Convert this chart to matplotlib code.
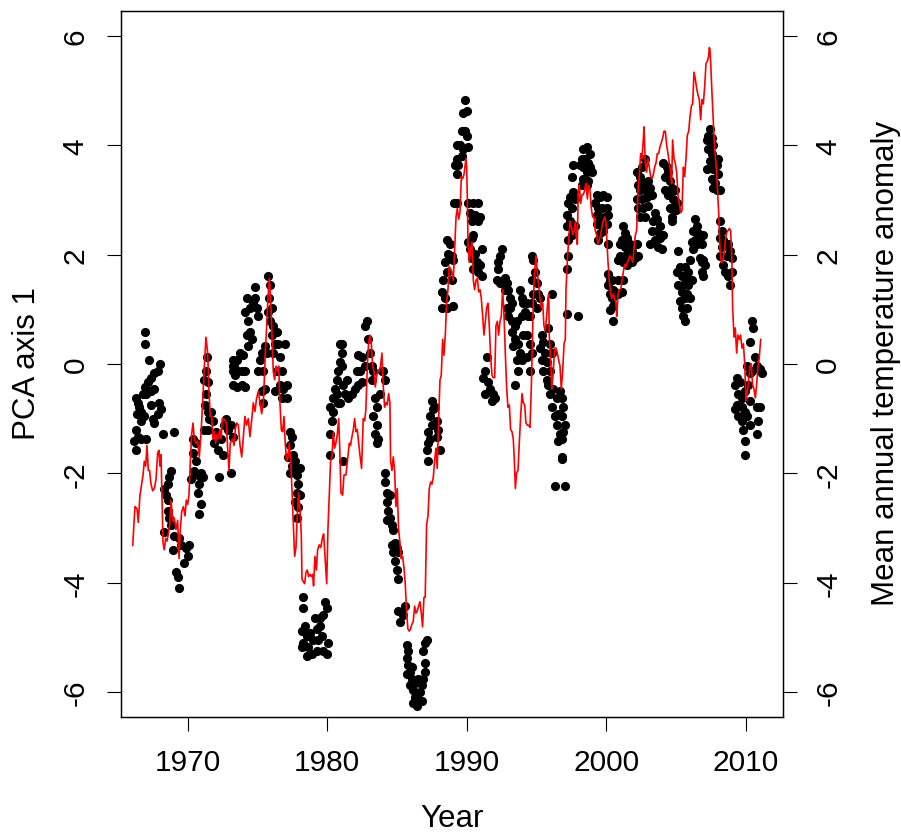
import matplotlib
matplotlib.use("Agg")
import matplotlib.pyplot as plt

plt.rcParams['font.family'] = ['Liberation Sans', 'DejaVu Sans']

# ---------------- data: mean annual temperature anomaly (red line) ----------------
temp_1966_1973 = [
    (1966.07, -3.32), (1966.23, -2.61), (1966.38, -2.65), (1966.47, -2.90), (1966.59, -2.40),
    (1966.71, -2.20), (1966.81, -2.03), (1966.90, -1.78), (1967.00, -1.87), (1967.09, -1.49),
    (1967.19, -1.95), (1967.28, -1.95), (1967.38, -2.20), (1967.50, -2.32), (1967.62, -2.28),
    (1967.74, -2.11), (1967.86, -1.62), (1967.95, -1.58), (1968.02, -1.87), (1968.10, -1.66),
    (1968.17, -2.45), (1968.24, -3.27), (1968.33, -3.40), (1968.43, -3.19), (1968.53, -3.24),
    (1968.62, -3.11), (1968.72, -2.94), (1968.81, -2.49), (1968.93, -2.86), (1969.05, -2.82),
    (1969.17, -3.03), (1969.29, -2.86), (1969.39, -3.56), (1969.48, -3.03), (1969.58, -2.70),
    (1969.70, -2.61), (1969.82, -2.78), (1969.91, -2.49), (1970.01, -2.57), (1970.10, -2.40),
    (1970.20, -1.78), (1970.29, -1.29), (1970.39, -1.08), (1970.48, -1.37), (1970.60, -1.45),
    (1970.72, -1.41), (1970.84, -1.70), (1970.96, -1.29), (1971.08, -0.71), (1971.20, -0.05),
    (1971.32, 0.49), (1971.44, 0.20), (1971.54, -0.54), (1971.63, -0.96), (1971.73, -0.96),
    (1971.82, -1.37), (1971.92, -1.24), (1972.01, -1.45), (1972.11, -1.29), (1972.20, -1.37),
    (1972.30, -1.20), (1972.40, -1.37), (1972.49, -1.00), (1972.59, -1.00), (1972.68, -1.04),
    (1972.78, -1.08), (1972.87, -1.54), (1972.97, -1.95), (1973.06, -1.45),
]
temp_1973_1981 = [
    (1973.23, -1.37), (1973.33, -1.49), (1973.42, -1.20), (1973.52, -1.08), (1973.64, -1.12),
    (1973.76, -1.49), (1973.88, -1.70), (1974.00, -1.33), (1974.11, -0.96), (1974.23, -1.12),
    (1974.35, -1.00), (1974.47, -1.33), (1974.59, -1.04), (1974.71, -0.71), (1974.83, -0.87),
    (1974.95, -0.62), (1975.07, -0.50), (1975.19, -0.71), (1975.31, -0.91), (1975.43, -0.71),
    (1975.50, -0.29), (1975.57, 0.20), (1975.67, 0.70), (1975.76, 1.20), (1975.86, 1.57),
    (1975.95, 1.20), (1976.05, 0.54), (1976.14, -0.13), (1976.24, -0.29), (1976.34, -0.04),
    (1976.43, -0.13), (1976.53, -0.04), (1976.62, -0.71), (1976.72, -1.20), (1976.81, -1.24),
    (1976.91, -0.96), (1977.00, -1.45), (1977.10, -1.78), (1977.20, -1.70), (1977.29, -1.45),
    (1977.39, -1.78), (1977.48, -2.28), (1977.58, -2.94), (1977.67, -3.52), (1977.77, -3.36),
    (1977.86, -2.78), (1977.96, -2.36), (1978.06, -2.69), (1978.15, -3.11), (1978.20, -3.94),
    (1978.29, -3.98), (1978.39, -4.02), (1978.49, -3.81), (1978.58, -3.77), (1978.68, -3.89),
    (1978.77, -3.85), (1978.87, -3.89), (1978.96, -3.85), (1979.03, -4.06), (1979.13, -3.52),
    (1979.23, -3.77), (1979.32, -3.40), (1979.44, -3.31), (1979.54, -3.36), (1979.66, -3.19),
    (1979.75, -3.11), (1979.85, -3.52), (1979.97, -4.02), (1980.06, -3.02), (1980.16, -2.36),
    (1980.25, -1.78), (1980.35, -1.70), (1980.44, -1.24), (1980.54, -1.54), (1980.63, -1.45),
    (1980.73, -1.29), (1980.83, -1.00), (1980.92, -1.66),
]
temp_1981_1989 = [
    (1980.99, -2.36), (1981.11, -2.40), (1981.21, -2.03), (1981.35, -2.03), (1981.45, -1.78),
    (1981.59, -1.45), (1981.68, -1.49), (1981.78, -1.33), (1981.88, -1.20), (1981.97, -1.00),
    (1982.07, -1.24), (1982.16, -1.20), (1982.26, -1.45), (1982.35, -1.66), (1982.47, -1.91),
    (1982.59, -1.00), (1982.69, -1.04), (1982.78, -0.83), (1982.88, -0.04), (1982.97, 0.37),
    (1983.07, 0.53), (1983.17, 0.37), (1983.26, -0.04), (1983.36, -0.13), (1983.45, -0.42),
    (1983.55, -0.21), (1983.64, -0.13), (1983.74, -0.13), (1983.83, -0.04), (1983.93, 0.20),
    (1984.02, -0.38), (1984.12, -0.79), (1984.22, -0.71), (1984.31, -0.75), (1984.41, -0.54),
    (1984.50, -0.71), (1984.55, -1.78), (1984.65, -1.95), (1984.74, -1.70), (1984.84, -1.95),
    (1984.93, -2.61), (1985.03, -2.28), (1985.12, -3.02), (1985.22, -3.27), (1985.31, -3.56),
    (1985.41, -3.52), (1985.51, -3.73), (1985.60, -4.02), (1985.70, -4.56), (1985.79, -4.85),
    (1985.89, -4.89), (1985.98, -4.85), (1986.08, -4.76), (1986.17, -4.72), (1986.27, -4.43),
    (1986.37, -4.56), (1986.46, -4.52), (1986.56, -4.43), (1986.65, -4.35), (1986.75, -4.56),
    (1986.84, -4.81), (1986.94, -4.27), (1987.03, -4.27), (1987.13, -2.94), (1987.23, -2.78),
    (1987.32, -2.28), (1987.42, -2.16), (1987.51, -2.20), (1987.61, -2.07), (1987.70, -1.78),
    (1987.80, -1.54), (1987.89, -1.91), (1987.99, -1.04), (1988.09, -0.29), (1988.18, -0.21),
    (1988.28, 0.45), (1988.37, 0.16), (1988.47, 0.53), (1988.56, 1.11), (1988.66, 1.36),
    (1988.75, 1.78), (1988.85, 1.74),
]
temp_1989_1997 = [
    (1988.93, 1.69), (1989.04, 1.53), (1989.14, 2.11), (1989.24, 2.69), (1989.33, 2.85),
    (1989.43, 2.65), (1989.52, 2.77), (1989.62, 3.43), (1989.71, 3.39), (1989.81, 3.47),
    (1989.91, 3.68), (1989.95, 3.76), (1990.00, 3.60), (1990.05, 3.02), (1990.10, 2.19),
    (1990.19, 1.86), (1990.29, 2.11), (1990.38, 2.23), (1990.48, 1.53), (1990.57, 1.36),
    (1990.67, 1.53), (1990.77, 1.57), (1990.86, 1.32), (1990.96, 1.36), (1991.05, 1.20),
    (1991.15, 0.87), (1991.24, 0.53), (1991.34, 0.78), (1991.43, 1.03), (1991.53, 1.11),
    (1991.62, 0.70), (1991.72, 0.12), (1991.82, -0.21), (1991.91, -0.25), (1992.01, -0.25),
    (1992.10, 0.70), (1992.20, 0.78), (1992.29, 0.53), (1992.39, 0.78), (1992.48, 0.87),
    (1992.58, 1.36), (1992.68, 0.87), (1992.77, 0.20), (1992.87, -0.46), (1992.96, -0.79),
    (1993.06, -0.75), (1993.15, -1.20), (1993.25, -1.24), (1993.34, -1.37), (1993.42, -1.78),
    (1993.49, -2.28), (1993.58, -1.99), (1993.68, -1.95), (1993.77, -1.45), (1993.87, -0.96),
    (1993.97, -0.54), (1994.06, -0.71), (1994.16, -0.75), (1994.25, -1.08), (1994.35, -1.12),
    (1994.44, -1.12), (1994.54, -1.16), (1994.63, -0.46), (1994.71, 0.37), (1994.78, 1.20),
    (1994.87, 1.69), (1994.97, 1.98), (1995.06, 1.69), (1995.16, 1.45), (1995.26, 1.20),
    (1995.35, 1.03), (1995.45, 1.11), (1995.54, 0.70), (1995.64, 0.62), (1995.73, 0.87),
    (1995.83, 1.20), (1995.88, 1.28), (1995.92, 0.53), (1996.02, 0.04), (1996.11, -0.46),
    (1996.21, -0.13), (1996.30, 0.29), (1996.40, 0.29), (1996.50, 0.20), (1996.59, 0.08),
    (1996.69, -0.04),
]
temp_1997_2005 = [
    (1996.78, -0.46), (1996.88, -0.13), (1996.98, 0.37), (1997.07, 0.45), (1997.12, 1.36),
    (1997.21, 1.86), (1997.31, 2.27), (1997.41, 2.61), (1997.50, 2.52), (1997.60, 2.36),
    (1997.69, 2.44), (1997.79, 2.61), (1997.84, 2.36), (1997.93, 2.19), (1998.00, 3.18),
    (1998.07, 3.27), (1998.17, 2.94), (1998.27, 3.10), (1998.36, 3.10), (1998.46, 3.18),
    (1998.55, 3.31), (1998.65, 3.02), (1998.74, 3.27), (1998.84, 3.18), (1998.93, 2.85),
    (1999.03, 2.69), (1999.13, 2.69), (1999.22, 2.44), (1999.32, 2.36), (1999.41, 2.19),
    (1999.51, 2.27), (1999.60, 2.36), (1999.70, 2.52), (1999.79, 2.61), (1999.89, 2.69),
    (1999.98, 2.61), (2000.06, 2.19), (2000.13, 1.86), (2000.22, 1.53), (2000.32, 1.28),
    (2000.41, 1.20), (2000.51, 1.28), (2000.61, 1.20), (2000.70, 1.11), (2000.75, 0.87),
    (2000.85, 1.28), (2000.94, 1.36), (2001.04, 1.36), (2001.13, 1.53), (2001.23, 1.69),
    (2001.32, 1.82), (2001.42, 1.78), (2001.51, 1.86), (2001.61, 1.90), (2001.70, 1.98),
    (2001.80, 1.94), (2001.90, 1.86), (2001.99, 2.11), (2002.09, 2.36), (2002.18, 2.44),
    (2002.28, 3.18), (2002.37, 3.43), (2002.47, 3.85), (2002.56, 3.76), (2002.66, 4.10),
    (2002.71, 4.34), (2002.80, 3.68), (2002.90, 3.51), (2002.99, 3.76), (2003.09, 3.60),
    (2003.19, 3.43), (2003.28, 3.39), (2003.38, 3.47), (2003.47, 3.60), (2003.57, 3.68),
    (2003.66, 3.85), (2003.76, 3.85), (2003.85, 3.97), (2003.95, 4.05), (2004.05, 4.14),
    (2004.14, 4.26), (2004.24, 4.26), (2004.33, 4.01), (2004.43, 3.85), (2004.52, 3.68),
    (2004.62, 3.51), (2004.69, 3.30),
]
temp_2005_2011 = [
    (2004.76, 4.10), (2004.86, 3.76), (2004.95, 3.68), (2005.05, 3.51), (2005.14, 3.10),
    (2005.24, 2.94), (2005.34, 2.77), (2005.43, 2.81), (2005.53, 3.60), (2005.62, 3.43),
    (2005.72, 3.76), (2005.81, 4.18), (2005.91, 4.26), (2006.00, 4.51), (2006.10, 4.72),
    (2006.20, 4.76), (2006.29, 5.34), (2006.39, 5.21), (2006.48, 5.05), (2006.58, 4.92),
    (2006.67, 4.84), (2006.77, 4.47), (2006.86, 4.84), (2006.96, 4.76), (2007.06, 5.09),
    (2007.15, 5.50), (2007.25, 5.54), (2007.34, 5.63), (2007.39, 5.79), (2007.44, 5.75),
    (2007.49, 5.50), (2007.58, 4.96), (2007.68, 4.43), (2007.77, 3.93), (2007.87, 3.68),
    (2007.96, 3.27), (2008.06, 2.77), (2008.15, 2.11), (2008.25, 1.86), (2008.34, 1.86),
    (2008.44, 2.02), (2008.54, 2.27), (2008.63, 2.40), (2008.73, 2.44), (2008.82, 2.48),
    (2008.92, 2.44), (2009.01, 1.86), (2009.06, 1.03), (2009.16, 0.49), (2009.25, 0.66),
    (2009.35, 0.20), (2009.44, 0.53), (2009.54, 0.45), (2009.63, 0.53), (2009.73, 0.29),
    (2009.83, 0.37), (2009.92, 0.04), (2010.02, -0.67), (2010.11, -0.54), (2010.21, -0.29),
    (2010.30, -0.04), (2010.40, 0.00), (2010.49, -0.38), (2010.59, -0.46), (2010.69, -0.62),
    (2010.78, -0.38), (2010.88, -0.04), (2010.97, 0.12), (2011.07, 0.45),
]

# ---------------- data: PCA axis 1 scores (black points) ----------------
pca_1966_1970 = [
    (1966.95, 0.58), (1966.95, 0.37), (1967.26, 0.08), (1968.05, 0.00), (1967.86, -0.13),
    (1967.62, -0.17), (1967.38, -0.25), (1967.14, -0.33), (1966.95, -0.42), (1967.62, -0.46),
    (1967.38, -0.50), (1967.02, -0.54), (1966.78, -0.54), (1966.30, -0.62), (1966.42, -0.71),
    (1966.54, -0.79), (1966.66, -0.87), (1966.38, -0.91), (1967.38, -0.75), (1967.98, -0.71),
    (1968.10, -0.83), (1966.90, -0.96), (1967.50, -1.00), (1967.86, -0.91), (1966.66, -1.04),
    (1967.62, -1.08), (1966.30, -1.20), (1966.42, -1.33), (1966.19, -1.41), (1966.66, -1.37),
    (1967.02, -1.37), (1966.30, -1.58), (1968.22, -1.29), (1969.05, -1.24),
    (1968.81, -1.95), (1968.69, -2.07), (1968.57, -2.20), (1968.33, -2.28), (1968.45, -2.40),
    (1968.57, -2.49), (1968.57, -2.69), (1968.69, -2.82), (1968.81, -2.94), (1968.33, -3.07),
    (1969.05, -3.15), (1968.93, -3.40), (1969.41, -3.19), (1969.53, -3.32), (1969.89, -3.36),
    (1970.13, -3.32), (1970.01, -3.52), (1969.77, -3.65), (1969.17, -3.81), (1969.29, -3.89),
    (1969.41, -4.10),
]
pca_1970_1973 = [
    (1970.36, -1.37), (1970.60, -1.45), (1970.36, -1.62), (1970.60, -1.78), (1970.48, -1.95),
    (1970.72, -2.03), (1970.96, -1.99), (1971.08, -2.07), (1970.84, -2.20), (1970.72, -2.36),
    (1970.96, -2.57), (1970.84, -2.74), (1970.25, -2.11),
    (1971.39, 0.12), (1971.32, -0.13), (1971.20, -0.29), (1971.49, -0.33), (1971.32, -0.54),
    (1971.25, -0.75), (1971.44, -0.87), (1971.56, -1.00), (1971.49, -1.20), (1971.20, -1.20),
    (1971.68, -0.87), (1971.80, -1.04), (1972.04, -1.24), (1971.92, -1.45), (1972.16, -1.58),
    (1972.40, -1.37), (1972.51, -1.66), (1972.28, -2.07), (1972.63, -1.12), (1972.75, -1.00),
    (1972.87, -1.20), (1973.11, -1.12), (1973.23, -1.33), (1973.11, -1.99), (1973.23, -0.13),
    (1973.23, 0.08), (1973.35, -0.04),
]
pca_1973_1977 = [
    (1973.28, -0.04), (1973.52, 0.08), (1973.76, 0.20), (1974.00, 0.16), (1973.64, -0.13),
    (1973.40, -0.21), (1973.88, -0.13), (1974.11, -0.13), (1973.28, -0.38), (1973.52, -0.42),
    (1973.88, -0.38), (1974.11, -0.42),
    (1974.23, 1.20), (1974.11, 0.95), (1974.35, 0.78), (1974.47, 0.58), (1974.23, 0.53),
    (1974.59, 0.45), (1974.35, 0.33), (1974.47, 1.03), (1974.71, 1.11), (1974.83, 1.20),
    (1974.95, 1.03), (1975.07, 0.87), (1974.83, 1.40),
    (1975.19, 0.08), (1975.07, -0.13), (1975.31, 0.20), (1975.43, -0.13), (1975.55, 0.33),
    (1975.67, 0.20), (1975.55, -0.46), (1975.31, -0.50), (1975.43, -0.71),
    (1975.79, 1.61), (1975.91, 1.45), (1975.86, 1.20), (1976.03, 1.03), (1975.79, 0.95),
    (1975.91, 0.78), (1976.14, 0.70), (1976.03, 0.53), (1976.38, 0.58), (1976.26, 0.37),
    (1976.50, 0.37), (1976.14, 0.20), (1976.62, 0.12), (1976.74, -0.13), (1976.38, -0.13),
    (1976.98, 0.37), (1976.62, -0.38), (1976.86, -0.46), (1977.10, -0.38), (1976.74, -0.62),
    (1977.10, -0.62), (1976.26, -0.50),
]
pca_1977_1980 = [
    (1977.34, -1.24), (1977.46, -1.33), (1977.34, -1.49), (1977.58, -1.66), (1977.22, -1.70),
    (1977.46, -1.87), (1977.70, -1.78), (1977.58, -1.95), (1978.06, -1.91), (1977.82, -2.03),
    (1977.94, -2.20), (1977.82, -2.36), (1978.06, -2.40), (1977.70, -2.53), (1977.94, -2.61),
    (1977.82, -2.82), (1977.34, -1.99),
    (1978.29, -4.27), (1978.29, -4.47), (1978.41, -4.80), (1978.17, -4.89), (1978.53, -4.97),
    (1978.29, -5.10), (1978.77, -4.93), (1979.01, -5.05), (1979.25, -4.85), (1979.49, -4.80),
    (1979.73, -4.60), (1979.85, -4.35), (1979.97, -4.47), (1980.09, -5.10), (1979.97, -5.30),
    (1979.73, -5.26), (1979.25, -5.26), (1978.89, -5.30), (1978.53, -5.34), (1978.17, -5.18),
    (1978.65, -5.18), (1979.37, -5.05), (1979.61, -4.97), (1979.13, -4.64), (1979.49, -4.64),
]
pca_1980_1984 = [
    (1980.21, -1.29), (1980.32, -1.04), (1980.44, -0.87), (1980.21, -0.79), (1980.44, -0.62),
    (1980.56, -0.46), (1980.68, -0.29), (1980.80, -0.13), (1980.92, 0.04), (1981.04, 0.20),
    (1980.92, 0.37), (1980.68, -0.54), (1980.80, -0.71), (1981.04, -0.04), (1980.21, -1.66),
    (1981.04, 0.37), (1981.16, -0.38), (1981.40, -0.29), (1981.28, -0.54), (1981.52, -0.62),
    (1981.76, -0.54), (1981.99, -0.46), (1982.23, -0.38), (1982.47, -0.33), (1982.11, -0.13),
    (1982.35, -0.13), (1982.47, 0.12), (1982.23, 0.16), (1982.71, -0.04), (1982.71, 0.70),
    (1982.83, 0.78), (1982.95, 0.45), (1983.07, 0.20), (1983.19, -0.04), (1983.31, -0.13),
    (1983.19, -0.29), (1983.43, -0.62), (1983.55, -0.79), (1983.31, -0.96), (1983.55, -1.12),
    (1983.43, -1.29), (1983.67, -1.37), (1983.55, -1.45), (1983.91, -0.13), (1984.02, -0.13),
    (1984.14, -0.29), (1983.79, -0.54), (1980.92, -0.71), (1981.16, -1.78),
]
pca_1984_1988 = [
    (1984.14, -1.99), (1984.14, -2.16), (1984.26, -2.36), (1984.50, -2.40), (1984.26, -2.53),
    (1984.38, -2.69), (1984.50, -2.82), (1984.26, -2.86), (1984.62, -2.94), (1984.74, -3.03),
    (1984.86, -3.27), (1984.62, -3.32), (1984.98, -3.36), (1984.74, -3.44), (1984.86, -3.61),
    (1984.98, -3.77), (1985.10, -3.94), (1985.10, -3.44),
    (1985.10, -4.52), (1985.34, -4.56), (1985.46, -4.60), (1985.22, -4.72), (1985.58, -4.43),
    (1985.70, -5.14), (1985.82, -5.26), (1985.70, -5.38), (1985.82, -5.51), (1985.94, -5.63),
    (1985.70, -5.67), (1986.05, -5.76), (1985.94, -5.88), (1986.17, -5.96), (1986.29, -6.09),
    (1986.17, -6.21), (1986.41, -6.25), (1986.53, -6.13), (1986.65, -6.00), (1986.77, -5.88),
    (1986.53, -5.76), (1986.89, -5.76), (1987.01, -5.63), (1987.01, -5.47), (1986.89, -5.26),
    (1987.01, -5.10), (1987.13, -5.05), (1986.05, -5.55), (1986.29, -5.84), (1986.77, -6.17),
    (1987.13, -1.58), (1987.25, -1.45), (1987.37, -1.37), (1987.25, -1.24), (1987.49, -1.12),
    (1987.37, -0.96), (1987.61, -0.83), (1987.49, -0.67), (1987.73, -0.79), (1987.85, -1.04),
    (1987.97, -1.20), (1987.85, -1.33), (1988.08, -1.58), (1987.25, -1.78),
]
pca_1988_1991 = [
    (1988.56, 2.27), (1988.80, 2.19), (1988.68, 2.02), (1988.44, 1.86), (1988.56, 1.69),
    (1988.32, 1.53), (1988.20, 1.32), (1988.44, 1.20), (1988.20, 1.03), (1988.56, 1.03),
    (1989.04, 1.07), (1988.93, 1.98), (1989.04, 1.90), (1988.93, 1.53),
    (1989.88, 4.84), (1989.76, 4.59), (1990.00, 4.63), (1989.64, 4.26), (1989.88, 4.26),
    (1990.00, 4.18), (1989.28, 4.01), (1989.52, 4.01), (1989.76, 3.93), (1990.12, 3.97),
    (1989.28, 3.76), (1989.64, 3.81), (1989.16, 3.64), (1989.40, 3.64), (1989.28, 3.47),
    (1989.11, 2.94), (1989.28, 2.94), (1990.12, 2.94), (1990.48, 2.94), (1990.84, 2.94),
    (1990.24, 2.77), (1990.60, 2.73), (1990.96, 2.69), (1990.36, 2.61), (1990.84, 2.61),
    (1990.12, 2.23), (1990.36, 2.31), (1990.48, 2.36), (1990.24, 2.11), (1990.60, 2.02),
    (1991.08, 2.11), (1990.72, 1.86), (1990.96, 1.82), (1990.48, 1.73), (1990.84, 1.69),
    (1991.08, 1.61), (1990.36, 1.94),
]
pca_1991_1997 = [
    (1991.43, 0.12), (1991.31, -0.13), (1991.19, -0.25), (1991.55, -0.33), (1991.31, -0.54),
    (1991.67, -0.46), (1991.91, -0.54), (1991.79, -0.67), (1992.03, -0.62),
    (1992.51, 2.11), (1992.39, 1.98), (1992.27, 1.86), (1992.27, 1.73), (1992.15, 1.53),
    (1992.39, 1.49), (1992.75, 1.57), (1992.87, 1.49), (1992.99, 1.36), (1993.11, 1.20),
    (1992.75, 1.36), (1992.87, 1.03), (1993.11, 1.03), (1993.23, 1.11), (1992.99, 0.87),
    (1993.23, 0.78), (1993.46, 0.70), (1993.82, 1.36), (1993.94, 1.20), (1994.06, 1.11),
    (1994.30, 1.11), (1994.18, 0.95), (1994.42, 0.87), (1993.94, 0.87), (1993.58, 0.78),
    (1993.23, 0.58), (1993.46, 0.45), (1993.34, 0.33), (1993.70, 0.37), (1993.82, 0.20),
    (1994.06, 0.53), (1994.30, 0.53), (1994.54, 0.37), (1994.66, 0.20), (1994.30, 0.12),
    (1993.94, 0.08), (1993.58, 0.08), (1993.70, -0.13), (1993.46, -0.38), (1994.54, -0.13),
    (1994.66, 1.98), (1994.78, 1.90), (1994.90, 1.69), (1994.66, 1.53), (1995.02, 1.49),
    (1995.13, 1.28), (1994.78, 1.28), (1995.25, 1.20), (1994.66, 1.11), (1995.02, 1.03),
    (1994.54, 0.87),
    (1995.37, 0.53), (1995.49, 0.41), (1995.25, 0.29), (1995.61, 0.20), (1995.37, 0.08),
    (1995.73, 0.04), (1995.49, -0.13), (1995.73, -0.29), (1995.85, 0.66), (1995.97, 0.37),
    (1996.09, 0.20), (1995.97, -0.13), (1995.85, -0.38), (1995.97, -0.54), (1996.21, -0.46),
    (1996.45, -0.62), (1996.09, -0.79), (1996.33, -0.96), (1996.57, -0.91), (1996.45, -1.12),
    (1996.69, -1.29), (1996.57, -1.41), (1996.81, -1.70), (1996.33, -2.24), (1997.05, -2.24),
    (1996.69, -0.50), (1996.09, 1.28), (1996.81, -0.62), (1996.93, -0.79), (1996.81, -0.96),
    (1997.05, -1.12), (1996.93, -1.24), (1996.81, -1.37), (1996.81, -1.74),
]
pca_1997_2005 = [
    (1997.17, 0.91), (1998.00, 0.88), (1997.17, 1.73), (1997.29, 1.98),
    (1997.17, 2.52), (1997.41, 2.61), (1997.64, 2.44), (1997.53, 2.36), (1997.76, 2.52),
    (1997.29, 2.94), (1997.41, 3.06), (1997.64, 3.14), (1997.76, 3.02), (1997.53, 2.85),
    (1997.17, 2.73), (1997.29, 2.27), (1997.64, 3.64), (1997.53, 3.43),
    (1998.36, 3.93), (1998.60, 3.97), (1998.24, 3.76), (1998.48, 3.76), (1998.72, 3.68),
    (1998.84, 3.60), (1998.36, 3.60), (1998.12, 3.64), (1998.60, 3.51), (1998.96, 3.51),
    (1998.36, 3.39), (1998.72, 3.35), (1998.24, 3.27), (1998.60, 3.27), (1998.84, 3.85),
    (1999.32, 3.10), (1999.55, 3.06), (1999.79, 3.10), (2000.03, 3.06), (1999.20, 2.94),
    (1999.44, 2.85), (1999.67, 2.85), (2000.03, 2.85), (1999.32, 2.73), (1999.55, 2.69),
    (1999.91, 2.69), (2000.15, 2.73), (1999.32, 2.56), (1999.67, 2.52), (2000.03, 2.56),
    (1999.55, 2.40), (1999.79, 2.44), (1999.44, 2.27), (2000.15, 2.19),
    (2000.15, 1.65), (2000.27, 1.53), (2000.15, 1.45), (2000.39, 1.53), (2000.51, 1.36),
    (2000.27, 1.28), (2000.63, 1.32), (2000.39, 1.20), (2000.51, 1.07), (2000.87, 1.28),
    (2001.11, 1.32), (2001.23, 1.53), (2000.87, 1.53), (2000.27, 0.99), (2000.51, 0.78),
    (2001.23, 2.52), (2001.35, 2.40), (2001.11, 2.27), (2001.47, 2.31), (2000.99, 2.19),
    (2001.35, 2.15), (2001.70, 2.19), (2000.99, 1.98), (2001.35, 1.98), (2001.59, 2.02),
    (2001.82, 2.07), (2000.87, 1.90), (2001.23, 1.86), (2001.47, 1.82), (2001.82, 1.86),
    (2002.18, 2.19), (2002.30, 1.98), (2002.06, 1.94),
    (2002.18, 3.51), (2002.42, 3.43), (2002.54, 3.60), (2002.30, 3.27), (2002.66, 3.31),
    (2002.42, 3.18), (2002.78, 3.18), (2002.18, 3.02), (2002.54, 3.02), (2002.90, 3.06),
    (2002.30, 2.85), (2002.66, 2.85), (2003.02, 2.89), (2002.78, 2.69), (2002.42, 2.69),
    (2002.78, 3.76), (2003.14, 3.23), (2003.26, 3.10), (2003.02, 3.35),
    (2003.50, 2.77), (2003.38, 2.61), (2003.61, 2.65), (2003.26, 2.44), (2003.61, 2.44),
    (2003.85, 2.52), (2003.50, 2.27), (2003.85, 2.31), (2004.09, 2.36), (2003.73, 2.15),
    (2003.97, 2.11), (2003.14, 2.19),
    (2004.09, 3.68), (2004.33, 3.60), (2004.21, 3.43), (2004.45, 3.51), (2004.57, 3.35),
    (2004.21, 3.18), (2004.45, 3.10), (2004.57, 2.85), (2004.69, 2.69), (2004.81, 3.18),
    (2004.93, 2.98),
]
pca_2005_2011 = [
    (2004.69, 3.23), (2004.93, 3.18), (2004.81, 3.02), (2005.05, 2.94), (2004.69, 2.85),
    (2005.03, 2.81), (2004.69, 2.61),
    (2005.17, 2.07), (2005.05, 1.69), (2005.29, 1.78), (2005.65, 1.78), (2005.41, 1.61),
    (2005.77, 1.57), (2005.53, 1.45), (2005.88, 1.45), (2005.17, 1.45), (2005.41, 1.32),
    (2005.77, 1.28), (2005.29, 1.16), (2005.65, 1.20), (2006.00, 1.20), (2005.41, 1.03),
    (2005.77, 1.03), (2005.53, 0.87), (2005.65, 0.78), (2006.12, 1.53), (2005.88, 1.69),
    (2006.36, 2.65), (2006.48, 2.52), (2006.24, 2.44), (2006.60, 2.40), (2006.36, 2.27),
    (2006.72, 2.31), (2006.96, 2.36), (2006.12, 2.23), (2006.48, 2.19), (2006.84, 2.19),
    (2006.24, 2.11), (2006.72, 1.94), (2006.96, 1.90), (2006.84, 1.86), (2007.08, 1.82),
    (2006.84, 1.69), (2006.96, 1.61), (2006.00, 1.90),
    (2007.44, 4.30), (2007.32, 4.18), (2007.56, 4.14), (2007.20, 4.10), (2007.68, 4.01),
    (2007.32, 3.93), (2007.56, 3.85), (2007.80, 3.76), (2007.44, 3.72), (2008.03, 3.76),
    (2007.92, 3.64), (2007.68, 3.56), (2007.20, 3.56), (2008.03, 3.47), (2007.56, 3.39),
    (2007.80, 3.31), (2007.68, 3.23), (2007.92, 3.18), (2008.15, 3.18),
    (2008.15, 2.61), (2008.27, 2.44), (2008.15, 2.31), (2008.39, 2.27), (2008.51, 2.19),
    (2008.27, 2.15), (2008.75, 2.19), (2008.87, 2.07), (2008.99, 1.94), (2008.63, 1.98),
    (2008.39, 1.82), (2008.51, 1.69), (2008.75, 1.61), (2008.99, 1.69), (2008.87, 1.45),
    (2008.15, 1.98),
    (2010.42, 0.78), (2010.54, 0.66), (2010.30, 0.41), (2010.66, 0.12), (2010.42, -0.13),
    (2010.06, -0.04), (2010.30, -0.17), (2010.78, -0.04), (2011.02, -0.09), (2011.14, -0.17),
    (2009.35, -0.25), (2009.59, -0.33), (2009.23, -0.38), (2009.47, -0.54), (2009.71, -0.62),
    (2009.95, -0.50), (2010.18, -0.38), (2009.35, -0.75), (2009.71, -0.79), (2009.95, -0.87),
    (2009.23, -0.83), (2009.47, -0.96), (2009.71, -1.04), (2010.06, -0.96), (2010.30, -1.12),
    (2009.83, -1.20), (2009.95, -1.41), (2009.95, -1.66), (2010.78, -0.79), (2011.02, -0.79),
    (2010.90, -1.04), (2010.78, -1.29), (2010.30, -0.67),
]

x_ticks = [1970, 1980, 1990, 2000, 2010]
y_ticks = [-6, -4, -2, 0, 2, 4, 6]
x_label = "Year"
y_label_left = "PCA axis 1"
y_label_right = "Mean annual temperature anomaly"

# ---------------- assemble ----------------
temp = (temp_1966_1973 + temp_1973_1981 + temp_1981_1989 + temp_1989_1997
        + temp_1997_2005 + temp_2005_2011)
pca = (pca_1966_1970 + pca_1970_1973 + pca_1973_1977 + pca_1977_1980 + pca_1980_1984
       + pca_1984_1988 + pca_1988_1991 + pca_1991_1997 + pca_1997_2005 + pca_2005_2011)
temp_x = [p[0] for p in temp]
temp_y = [p[1] for p in temp]
pca_x = [p[0] for p in pca]
pca_y = [p[1] for p in pca]

W, H = 901, 837
fig = plt.figure(figsize=(W / 100, H / 100), dpi=100)
fig.patch.set_facecolor("white")
ax = fig.add_axes([121 / W, 1 - 718 / H, (783 - 121) / W, (718 - 12) / H])

FS = 21.5
ax.plot(pca_x, pca_y, linestyle="none", marker="o", color="black",
        markersize=6.6, markeredgewidth=0, zorder=2)
ax.plot(temp_x, temp_y, color="red", linewidth=1.2, zorder=3)

ax.set_xlim(1965.23, 2012.67)
ax.set_ylim(-6.46, 6.46)
ax.set_xticks(x_ticks)
ax.set_xticklabels([str(t) for t in x_ticks], fontsize=FS)
ax.set_yticks(y_ticks)
ax.set_yticklabels([str(t) for t in y_ticks], fontsize=FS, rotation=90, va="center")
ax.tick_params(axis="both", direction="out", length=10, width=0.8, color="black")
ax.tick_params(axis="x", pad=12.5)
ax.tick_params(axis="y", pad=12.5)
for s in ax.spines.values():
    s.set_linewidth(0.9)

ax2 = ax.twinx()
ax2.set_ylim(-6.46, 6.46)
ax2.set_yticks(y_ticks)
ax2.set_yticklabels([str(t) for t in y_ticks], fontsize=FS, rotation=90, va="center")
ax2.tick_params(axis="y", direction="out", length=10, width=0.8, pad=12.5)
for s in ax2.spines.values():
    s.set_linewidth(0.9)

fig.text(452 / W, 1 - 827 / H, x_label, fontsize=22.5, ha="center", va="baseline")
fig.text(27 / W, 1 - 364 / H, y_label_left, fontsize=22.5, rotation=90,
         ha="center", va="center")
fig.text(886 / W, 1 - 363 / H, y_label_right, fontsize=22.5, rotation=90,
         ha="center", va="center")

fig.savefig("out.png", dpi=100, facecolor="white")
